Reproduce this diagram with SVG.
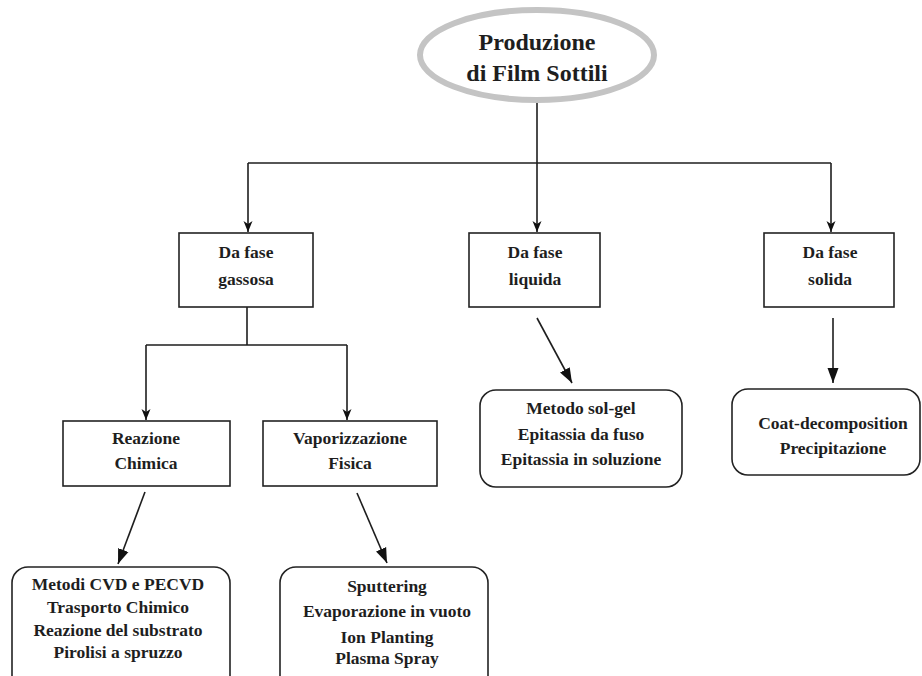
<svg xmlns="http://www.w3.org/2000/svg" width="922" height="676" viewBox="0 0 922 676">
<style>
.box{fill:#fff;stroke:#222;stroke-width:1.6}
.ell{fill:#fff;stroke:#c4c4c4;stroke-width:6}
.t{font-family:"Liberation Serif","Times New Roman",serif;font-weight:bold;font-size:17.5px;fill:#1e1e1e;text-anchor:middle}
.tt{font-size:24px}
.c{fill:none;stroke:#1e1e1e;stroke-width:1.6}
.s{marker-end:url(#a)}
.d{marker-end:url(#b)}
</style>
<defs>
<marker id="a" markerUnits="userSpaceOnUse" markerWidth="12" markerHeight="12" viewBox="0 0 12 12" refX="11" refY="6" orient="auto">
<path d="M0,1.5 L11,6 L0,10.5 L3,6 Z" fill="#111"/>
</marker>
<marker id="b" markerUnits="userSpaceOnUse" markerWidth="16" markerHeight="14" viewBox="0 0 16 14" refX="15" refY="7" orient="auto">
<path d="M0,1.5 L15,7 L0,12.5 Z" fill="#111"/>
</marker>
</defs>
<rect width="922" height="676" fill="#fff"/>
<g id="connectors">
<path class="c" d="M537,102 V163"/>
<path class="c" d="M248,163 H831"/>
<path class="c s" d="M537,163 V232"/>
<path class="c s" d="M248,163 V232"/>
<path class="c s" d="M831,163 V232"/>
<path class="c" d="M247,307 V345 M146,345 H347"/>
<path class="c s" d="M146,345 V420"/>
<path class="c s" d="M347,345 V420"/>
<path class="c d" d="M537,318 L572,383"/>
<path class="c d" d="M833,318 V383"/>
<path class="c d" d="M145,492 L118,564"/>
<path class="c d" d="M357,493 L387,563"/>
</g>
<g id="root">
<ellipse class="ell" cx="537" cy="55" rx="117" ry="45"/>
<text class="t tt" x="537" y="50">Produzione</text>
<text class="t tt" x="537" y="81">di Film Sottili</text>
</g>
<g id="gassosa">
<rect class="box" x="179" y="233" width="134" height="74"/>
<text class="t" x="246" y="258">Da fase</text>
<text class="t" x="246" y="285">gassosa</text>
</g>
<g id="liquida">
<rect class="box" x="469" y="233" width="131" height="74"/>
<text class="t" x="535" y="258">Da fase</text>
<text class="t" x="535" y="285">liquida</text>
</g>
<g id="solida">
<rect class="box" x="764" y="233" width="130" height="74"/>
<text class="t" x="830" y="258">Da fase</text>
<text class="t" x="830" y="285">solida</text>
</g>
<g id="reazione">
<rect class="box" x="63" y="421" width="167" height="65"/>
<text class="t" x="146" y="444">Reazione</text>
<text class="t" x="146" y="469">Chimica</text>
</g>
<g id="vaporizzazione">
<rect class="box" x="263" y="421" width="174" height="65"/>
<text class="t" x="350" y="444">Vaporizzazione</text>
<text class="t" x="350" y="469">Fisica</text>
</g>
<g id="liquida-metodi">
<rect class="box" x="480" y="390" width="202" height="97" rx="16"/>
<text class="t" x="581" y="414">Metodo sol-gel</text>
<text class="t" x="581" y="440">Epitassia da fuso</text>
<text class="t" x="581" y="465">Epitassia in soluzione</text>
</g>
<g id="solida-metodi">
<rect class="box" x="732" y="389" width="188" height="86" rx="16"/>
<text class="t" x="833" y="429">Coat-decomposition</text>
<text class="t" x="833" y="454">Precipitazione</text>
</g>
<g id="chimica-metodi">
<rect class="box" x="12" y="567" width="218" height="130" rx="16"/>
<text class="t" x="118" y="590">Metodi CVD e PECVD</text>
<text class="t" x="118" y="613">Trasporto Chimico</text>
<text class="t" x="118" y="636">Reazione del substrato</text>
<text class="t" x="118" y="658">Pirolisi a spruzzo</text>
</g>
<g id="fisica-metodi">
<rect class="box" x="280" y="567" width="208" height="130" rx="16"/>
<text class="t" x="387" y="592">Sputtering</text>
<text class="t" x="387" y="617">Evaporazione in vuoto</text>
<text class="t" x="387" y="643">Ion Planting</text>
<text class="t" x="387" y="664">Plasma Spray</text>
</g>
</svg>
